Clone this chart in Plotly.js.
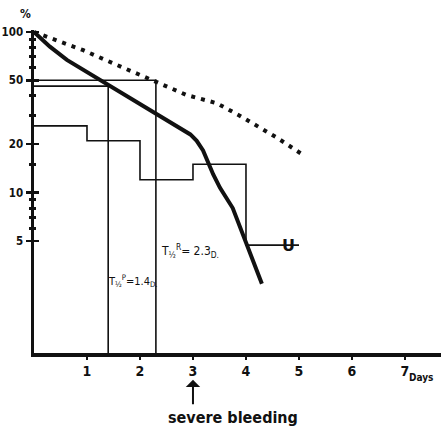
<!DOCTYPE html>
<html>
<head>
<meta charset="utf-8">
<script src="https://cdn.plot.ly/plotly-3.0.1.min.js"></script>
<style>html,body{margin:0;padding:0;background:#fff;}#chart{width:441px;height:430px;}</style>
</head>
<body>
<div id="chart"></div>
<script>
// Thick solid curve
const curveDays = [0, 0.3, 0.62, 1.25, 1.87, 2.3, 2.75, 2.95, 3.07, 3.19, 3.38, 3.51, 3.75, 4.02, 4.3];
const curvePct  = [100, 81, 67, 50, 38, 31, 25, 23, 21, 18.3, 13, 10.7, 8, 4.7, 2.7];
// Dotted curve
const dotDays = [0, 0.93, 1.68, 2.32, 2.88, 3.45, 3.89, 4.58, 5.06];
const dotPct  = [100, 77, 60, 49, 40.5, 36, 30, 22, 17.3];
// Half-life boxes
const boxRDays = [0, 2.3, 2.3];
const boxRPct  = [50, 50, 1];
const boxPDays = [0, 1.4, 1.4];
const boxPPct  = [46, 46, 1];
// Step series U
const stepDays = [0, 1, 2, 3, 4, 5];
const stepPct  = [26, 21, 12, 15, 4.7, 4.7];
// Axis ticks
const yTickVals = [5, 10, 20, 50, 100];
const yTickText = ['5', '10', '20', '50', '100'];
const yMinorVals = [6, 7, 8, 9, 15, 30, 40, 60, 70, 80, 90];
const xTickVals = [1, 2, 3, 4, 5, 6, 7];
const xTickText = ['1', '2', '3', '4', '5', '6', '7'];

const thin = {color: '#111', width: 1.6};
const traces = [
  {x: boxRDays, y: boxRPct, mode: 'lines', line: thin, hoverinfo: 'skip'},
  {x: boxPDays, y: boxPPct, mode: 'lines', line: thin, hoverinfo: 'skip'},
  {x: stepDays, y: stepPct, mode: 'lines', line: Object.assign({shape: 'hv'}, thin), hoverinfo: 'skip'},
  {x: dotDays, y: dotPct, mode: 'lines', line: {color: '#111', width: 4, dash: '4px,6px'}, hoverinfo: 'skip'},
  {x: curveDays, y: curvePct, mode: 'lines', line: {color: '#111', width: 4}, hoverinfo: 'skip'},
  {x: [null], y: [null], yaxis: 'y2', mode: 'lines', hoverinfo: 'skip'}
];

const fam = 'DejaVu Sans Condensed, DejaVu Sans';
const yRange = [0, 2.0125];

const layout = {
  width: 441, height: 430,
  margin: {l: 34, r: 0, t: 30, b: 77},
  paper_bgcolor: '#fff', plot_bgcolor: '#fff',
  showlegend: false,
  xaxis: {
    range: [0, 7.68], showgrid: false, zeroline: false,
    showline: true, linewidth: 3.5, linecolor: '#111',
    tickmode: 'array', tickvals: xTickVals, ticktext: xTickText,
    ticks: 'outside', ticklen: 3, tickwidth: 2.5, tickcolor: '#111',
    tickfont: {family: fam, size: 14, color: '#111', weight: 'bold'},
    ticklabelstandoff: 0
  },
  yaxis: {
    type: 'log', range: yRange, showgrid: false, zeroline: false,
    showline: true, linewidth: 3.5, linecolor: '#111',
    tickmode: 'array', tickvals: yTickVals, ticktext: yTickText,
    ticks: 'outside', ticklen: 5, tickwidth: 2.5, tickcolor: '#111',
    tickfont: {family: fam, size: 11.5, color: '#111', weight: 'bold'},
    ticklabelstandoff: 0,
    minor: {tickmode: 'array', tickvals: yMinorVals, ticks: 'outside', ticklen: 2, tickwidth: 3, tickcolor: '#111'}
  },
  yaxis2: {
    type: 'log', range: yRange, overlaying: 'y', side: 'left',
    showgrid: false, zeroline: false, showline: false,
    tickmode: 'array', tickvals: yTickVals, showticklabels: false,
    ticks: 'inside', ticklen: 5, tickwidth: 2.5, tickcolor: '#111',
    minor: {tickmode: 'array', tickvals: yMinorVals, ticks: 'inside', ticklen: 2, tickwidth: 3, tickcolor: '#111'}
  },
  annotations: [
    {xref: 'paper', yref: 'paper', x: -0.02, y: 1.05, xanchor: 'center', yanchor: 'middle',
     text: '%', showarrow: false,
     font: {family: fam, size: 12, color: '#111', weight: 'bold'}},
    {xref: 'x', yref: 'y', x: 1.87, y: Math.log10(2.82),
     text: 'T<sub>½</sub><sup>P</sup>=1.4<sub>D.</sub>', showarrow: false,
     font: {family: fam, size: 11, color: '#111'}},
    {xref: 'x', yref: 'y', x: 2.94, y: Math.log10(4.34),
     text: 'T<sub>½</sub><sup>R</sup>= 2.3<sub>D.</sub>', showarrow: false,
     font: {family: fam, size: 12, color: '#111'}},
    {xref: 'x', yref: 'y', x: 4.8, y: Math.log10(4.7), text: 'U', showarrow: false,
     font: {family: 'DejaVu Sans', size: 16, color: '#111', weight: 'bold'}},
    {xref: 'x', yref: 'paper', x: 7.3, y: -0.1, text: 'Days', showarrow: false,
     font: {family: fam, size: 10, color: '#111', weight: 'bold'}},
    {xref: 'x', yref: 'paper', x: 3, y: -0.083, text: '', showarrow: true,
     ax: 0, ay: 26, arrowhead: 1, arrowsize: 1.2, arrowwidth: 2, arrowcolor: '#111'},
    {xref: 'x', yref: 'paper', x: 3.75, y: -0.2, yanchor: 'middle', text: 'severe bleeding', showarrow: false,
     font: {family: fam, size: 16, color: '#111', weight: 'bold'}}
  ]
};

Plotly.newPlot('chart', traces, layout, {displayModeBar: false, staticPlot: true});
</script>
</body>
</html>
